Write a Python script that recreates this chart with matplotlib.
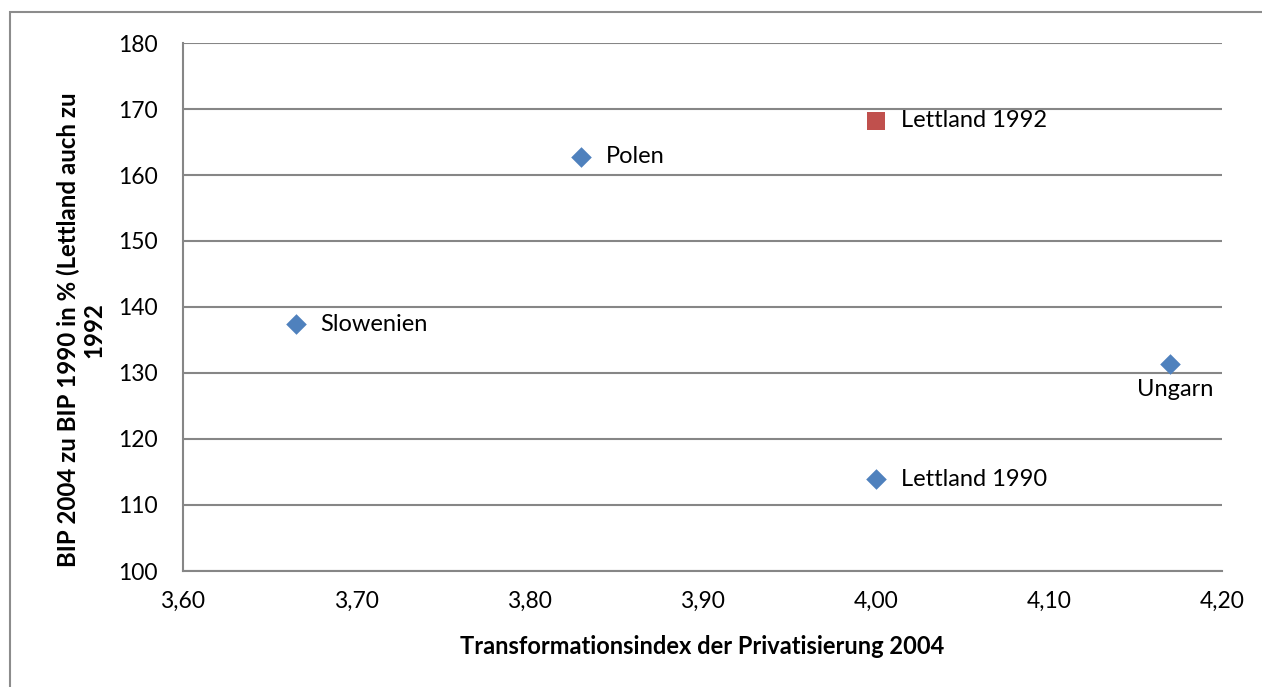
import matplotlib.pyplot as plt
from matplotlib.patches import Rectangle

plt.rcParams['font.family'] = ['Lato', 'DejaVu Sans']

# Privatisierungsindex vs. BIP-Wachstum
laender = ["Slowenien", "Polen", "Lettland 1990", "Ungarn"]
index_2004 = [3.665, 3.83, 4.00, 4.17]
bip_prozent = [137.4, 162.8, 113.9, 131.3]

lettland_92_label = "Lettland 1992"
lettland_92_x = [4.00]
lettland_92_y = [168.2]

blue = "#4F81BD"
red = "#C0504D"
grid_col = "#868686"

fig = plt.figure(figsize=(12.62, 6.87), dpi=100)
ax = fig.add_axes([183 / 1262, 1 - 571 / 687, (1222 - 183) / 1262, (571 - 43) / 687])

# chart frame (top/left edges visible)
fig.patches.append(Rectangle((10 / 1262, -0.1), 1.2, 1 - 12 / 687 + 0.1,
                             transform=fig.transFigure, fill=False,
                             edgecolor="#8C8C8C", linewidth=1.5))

ax.scatter(index_2004, bip_prozent, marker="D", s=110, color=blue, zorder=3, linewidths=0)
ax.scatter(lettland_92_x, lettland_92_y, marker="s", s=170, color=red, zorder=3, linewidths=0)

fs = 17
for name, x, y in zip(laender, index_2004, bip_prozent):
    if name == "Ungarn":
        ax.annotate(name, (x, y), xytext=(4, -18), textcoords="offset points",
                    ha="center", va="center", fontsize=fs)
    else:
        ax.annotate(name, (x, y), xytext=(18, 0), textcoords="offset points",
                    ha="left", va="center", fontsize=fs)
ax.annotate(lettland_92_label, (lettland_92_x[0], lettland_92_y[0]), xytext=(18, 0),
            textcoords="offset points", ha="left", va="center", fontsize=fs)

ax.set_xlim(3.60, 4.20)
ax.set_ylim(100, 180)
ax.set_xticks([3.60, 3.70, 3.80, 3.90, 4.00, 4.10, 4.20])
ax.set_xticklabels([f"{v:.2f}".replace(".", ",") for v in ax.get_xticks()])
ax.set_yticks(range(100, 181, 10))

ax.grid(axis="y", color=grid_col, linewidth=1.5)
ax.set_axisbelow(True)
for side in ("top", "right"):
    ax.spines[side].set_visible(False)
for side in ("left", "bottom"):
    ax.spines[side].set_color(grid_col)
    ax.spines[side].set_linewidth(1.5)
ax.tick_params(length=0, labelsize=16.5)
ax.tick_params(axis="y", pad=18)
ax.tick_params(axis="x", pad=14)

ax.set_xlabel("Transformationsindex der Privatisierung 2004", fontsize=17,
              fontweight="bold")
ax.xaxis.set_label_coords(0.5, -(646 - 571) / 528, transform=ax.transAxes)
ax.xaxis.label.set_va("center")
ax.set_ylabel("BIP 2004 zu BIP 1990 in % (Lettland auch zu\n1992", fontsize=17.3,
              fontweight="bold", linespacing=1.15)
ax.yaxis.set_label_coords((81 - 183) / 1039, (571 - 330) / 528, transform=ax.transAxes)
ax.yaxis.label.set_va("center")

fig.savefig("out.png", dpi=100)
